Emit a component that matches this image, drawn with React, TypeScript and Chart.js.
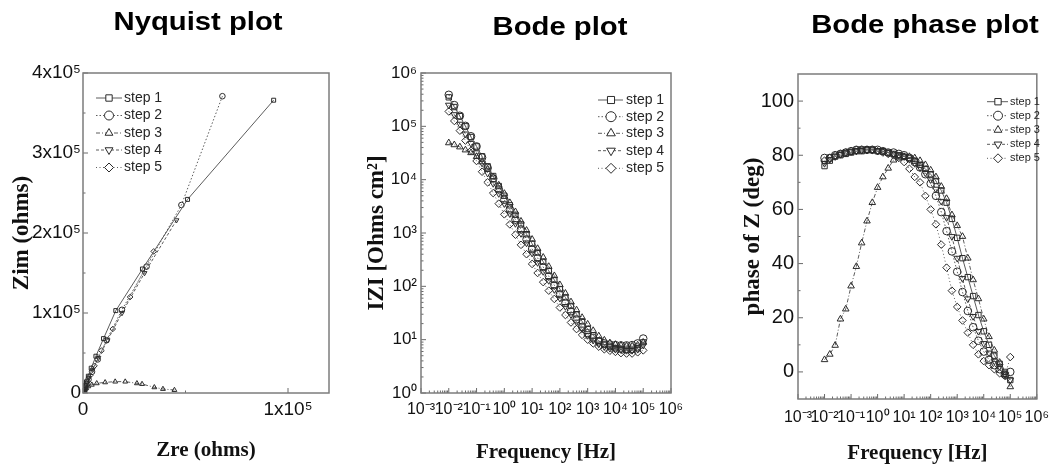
import React, { useEffect, useRef } from 'react';
import { Chart, registerables } from 'chart.js';

Chart.register(...registerables);

// ---------------- data ----------------
const seriesLabels = ['step 1', 'step 2', 'step 3', 'step 4', 'step 5'];

const frequencyHz = [
  0.01, 0.0158, 0.0251, 0.0398, 0.0631, 0.1, 0.158, 0.251, 0.398, 0.631,
  1, 1.58, 2.51, 3.98, 6.31, 10, 15.8, 25.1, 39.8, 63.1,
  100, 158, 251, 398, 631, 1000, 1580, 2510, 3980, 6310,
  10000, 15800, 25100, 39800, 63100, 100000,
];

const zModStep1 = [350000, 230000, 155000, 100000, 63000, 42000, 27500, 17800, 11700, 7600, 5000, 3300, 2200, 1450, 950, 630, 430, 290, 195, 132, 89, 62, 43, 30, 22, 15.8, 12, 9.5, 8.1, 7.4, 6.9, 6.6, 6.5, 6.5, 6.9, 8.9];
const zModStep2 = [390000, 250000, 158000, 102000, 65000, 42000, 26000, 16600, 10500, 6600, 4200, 2750, 1780, 1170, 760, 500, 340, 230, 155, 105, 71, 49, 34, 24, 17.4, 13.2, 10.7, 9.3, 8.5, 8.1, 7.9, 7.8, 7.8, 7.9, 8.5, 10.5];
const zModStep3 = [49000, 45000, 41000, 36000, 32000, 27000, 21500, 15800, 11200, 7900, 5500, 3700, 2500, 1660, 1120, 760, 510, 350, 235, 158, 107, 74, 51, 36, 26, 19.5, 14.8, 11.7, 9.8, 8.7, 8.1, 7.8, 7.6, 7.6, 7.9, 8.9];
const zModStep4 = [250000, 166000, 110000, 72000, 48000, 32000, 20500, 13200, 8500, 5500, 3550, 2300, 1510, 980, 650, 420, 280, 190, 129, 87, 60, 42, 29.5, 21.4, 15.8, 12, 9.8, 8.3, 7.4, 6.9, 6.6, 6.5, 6.3, 6.3, 6.6, 7.9];
const zModStep5 = [190000, 126000, 83000, 54000, 35000, 22400, 14100, 8900, 5600, 3550, 2240, 1450, 930, 600, 400, 263, 178, 120, 83, 58, 40, 29, 21, 15.8, 12.3, 10, 8.5, 7.4, 6.6, 6.2, 5.9, 5.6, 5.5, 5.5, 5.8, 6.3];

const phaseStep1 = [76, 78, 79.5, 80, 80.5, 81, 81.5, 81.5, 82, 82, 81.5, 81.5, 81, 80.5, 80, 79.5, 79, 78, 76.5, 75, 73, 70.5, 67, 62.5, 56.5, 49.5, 42, 35, 28, 21, 15, 10, 6, 3, 0, -3];
const phaseStep2 = [79, 79, 80, 80.5, 81, 81.5, 82, 82, 82, 82, 82, 81.5, 81, 81, 80.5, 80, 79, 77.5, 75.5, 73, 69.5, 65, 59, 52, 44.5, 37, 29.5, 22.5, 16.5, 11.5, 7.5, 4.5, 2.5, 1, -1, 0];
const phaseStep3 = [4.5, 6.5, 9.8, 19.5, 23.2, 31.7, 38.9, 47.6, 55.7, 62.5, 68.1, 72, 75.2, 78.2, 79, 79.5, 79.5, 79, 78, 76.5, 74.5, 72, 68.5, 64, 58, 54, 50, 42, 34, 27, 19.5, 13, 8, 3.5, -1, -5.5];
const phaseStep4 = [77, 78.5, 79.5, 80.5, 81, 81.5, 81.5, 82, 82, 82, 81.5, 81.5, 81, 80.5, 80, 79.5, 78.5, 77, 75.5, 73.5, 71, 67.5, 63, 57, 50, 42, 34.5, 27, 20.5, 15, 10.5, 7, 4, 2, -1, -3];
const phaseStep5 = [78, 79, 80, 80.5, 81, 81.5, 82, 82, 82, 82, 81.5, 81, 80.5, 80, 79, 77.5, 75, 72, 70, 65, 60, 54.5, 47, 38.5, 30, 24, 19, 14.5, 10, 6.5, 4, 2.5, 1, -0.5, -1.5, 5.5];

const nyqReStep1 = [93000, 51000, 29000, 16000, 10000, 6300, 4000, 2600, 1700, 1100, 700, 450, 300, 190, 120, 80];
const nyqImStep1 = [366000, 242000, 155000, 103000, 68000, 46000, 31000, 21000, 14000, 9500, 6300, 4200, 2800, 1900, 1200, 800];
const nyqReStep2 = [68000, 48000, 31000, 19000, 11500, 7200, 4400, 2700, 1700, 1050, 660, 420, 270, 180, 120, 80];
const nyqImStep2 = [371000, 235000, 158000, 104000, 66000, 42000, 26500, 17000, 10800, 6800, 4300, 2750, 1780, 1170, 760, 500];
const nyqReStep3 = [44600, 39000, 34800, 28800, 26300, 20600, 15700, 10800, 6700, 4300, 2600, 1600, 950, 560, 330, 200];
const nyqImStep3 = [3700, 5000, 7100, 11200, 12100, 14200, 14200, 13300, 12100, 10300, 8300, 5900, 4000, 2600, 1700, 1100];
const nyqReStep4 = [45600, 30000, 19000, 12000, 7500, 4700, 2900, 1800, 1150, 720, 460, 300, 190, 120, 80];
const nyqImStep4 = [216000, 150000, 100000, 66000, 44000, 29000, 19000, 12500, 8200, 5400, 3500, 2300, 1500, 980, 640];
const nyqReStep5 = [34500, 23000, 14500, 9000, 5600, 3500, 2200, 1400, 900, 580, 370, 240, 150, 100];
const nyqImStep5 = [177000, 120000, 80000, 53000, 34000, 22000, 14000, 8800, 5500, 3500, 2200, 1400, 900, 590];

const nyquistXTicks = [0, 100000];
const nyquistYTicks = [0, 100000, 200000, 300000, 400000];
const decadeTicks = [0.001, 0.01, 0.1, 1, 10, 100, 1000, 10000, 100000, 1000000];
const bodeYTicks = [1, 10, 100, 1000, 10000, 100000, 1000000];
const phaseYTicks = [0, 20, 40, 60, 80, 100];

// ---------------- styles ----------------
const SANS = "'Liberation Sans Narrow', 'Liberation Sans', Arial, sans-serif";
const SERIF = "'Liberation Serif', 'Times New Roman', serif";
const MARK = '#2b2b2b';
const LINE = '#5c5c5c';
const pointStyles = ['rect', 'circle', 'triangle', 'triangle', 'rectRot'];
const pointRotations = [0, 0, 0, 180, 0];
const lineDashes: number[][] = [[], [1.5, 2], [4, 2, 1, 2], [3, 2], [1, 2.5]];

const SUP: Record<string, string> = { '-': '⁻', '0': '⁰', '1': '¹', '2': '²', '3': '³', '4': '⁴', '5': '⁵', '6': '⁶', '7': '⁷', '8': '⁸', '9': '⁹' };
const sup = (s: string) => s.split('').map((c) => SUP[c] || c).join('');
const powLabel = (v: number) => '10' + sup(String(Math.round(Math.log10(v))));

function logMinors(lo: number, hi: number) {
  const out: number[] = [];
  for (let e = lo; e < hi; e++) for (let m = 2; m <= 9; m++) out.push(m * Math.pow(10, e));
  return out;
}

function drawMarker(ctx: CanvasRenderingContext2D, style: string, rotDeg: number, x: number, y: number, r: number) {
  ctx.beginPath();
  if (style === 'circle') {
    ctx.arc(x, y, r, 0, Math.PI * 2);
  } else if (style === 'rect') {
    const s = r * Math.SQRT1_2;
    ctx.rect(x - s, y - s, 2 * s, 2 * s);
  } else if (style === 'rectRot') {
    ctx.moveTo(x, y - r);
    ctx.lineTo(x + r, y);
    ctx.lineTo(x, y + r);
    ctx.lineTo(x - r, y);
    ctx.closePath();
  } else {
    let a = (rotDeg * Math.PI) / 180;
    ctx.moveTo(x + Math.sin(a) * r, y - Math.cos(a) * r);
    a += (2 * Math.PI) / 3;
    ctx.lineTo(x + Math.sin(a) * r, y - Math.cos(a) * r);
    a += (2 * Math.PI) / 3;
    ctx.lineTo(x + Math.sin(a) * r, y - Math.cos(a) * r);
    ctx.closePath();
  }
  ctx.fill();
  ctx.stroke();
}

const framePlugin = {
  id: 'frame',
  afterDatasetsDraw(chart: any, _args: any, opts: any) {
    const { ctx, chartArea: a, scales } = chart;
    const xs = scales.x;
    const ys = scales.y;
    ctx.save();
    ctx.strokeStyle = '#6a6a6a';
    ctx.lineWidth = 1;
    const seg = (x1: number, y1: number, x2: number, y2: number) => {
      ctx.beginPath();
      ctx.moveTo(x1, y1);
      ctx.lineTo(x2, y2);
      ctx.stroke();
    };
    xs.ticks.forEach((t: any) => {
      const p = xs.getPixelForValue(t.value);
      seg(p, a.bottom, p, a.bottom - 5);
    });
    (opts.xMinor || []).forEach((v: number) => {
      if (v <= xs.min || v >= xs.max) return;
      const p = xs.getPixelForValue(v);
      seg(p, a.bottom, p, a.bottom - 2.5);
    });
    ys.ticks.forEach((t: any) => {
      const p = ys.getPixelForValue(t.value);
      seg(a.left, p, a.left + 5, p);
    });
    (opts.yMinor || []).forEach((v: number) => {
      if (v <= ys.min || v >= ys.max) return;
      const p = ys.getPixelForValue(v);
      seg(a.left, p, a.left + 2.5, p);
    });
    ctx.strokeStyle = '#7c7c7c';
    ctx.lineWidth = 1.5;
    ctx.strokeRect(a.left, a.top, a.right - a.left, a.bottom - a.top);
    ctx.restore();
  },
};

const legendPlugin = {
  id: 'stepLegend',
  afterDraw(chart: any, _args: any, o: any) {
    if (!o || !o.ys) return;
    const ctx: CanvasRenderingContext2D = chart.ctx;
    chart.data.datasets.forEach((ds: any, i: number) => {
      const y = o.ys[i];
      ctx.save();
      ctx.strokeStyle = LINE;
      ctx.lineWidth = 1;
      ctx.setLineDash(ds.borderDash || []);
      ctx.beginPath();
      ctx.moveTo(o.x0, y);
      ctx.lineTo(o.x1, y);
      ctx.stroke();
      ctx.setLineDash([]);
      ctx.fillStyle = '#ffffff';
      ctx.strokeStyle = MARK;
      drawMarker(ctx, ds.pointStyle, ds.pointRotation || 0, o.mx, y, o.r);
      ctx.fillStyle = '#262626';
      ctx.font = o.font;
      ctx.textBaseline = 'middle';
      ctx.textAlign = 'left';
      ctx.fillText(ds.label, o.tx, y);
      ctx.restore();
    });
  },
};

function makeDatasets(xArr: number[][], yArr: number[][], r: number) {
  return seriesLabels.map((label, i) => ({
    label,
    data: xArr[i].map((x, j) => ({ x, y: yArr[i][j] })),
    borderColor: LINE,
    borderWidth: 1,
    borderDash: lineDashes[i],
    pointStyle: pointStyles[i],
    pointRotation: pointRotations[i],
    pointRadius: r,
    pointBorderColor: MARK,
    pointBackgroundColor: 'rgba(255,255,255,0)',
    pointBorderWidth: 1,
    fill: false,
    tension: 0,
  }));
}

const noGrid = { display: false, drawTicks: false };
const noBorder = { display: false };

function buildNyquist(): any {
  return {
    type: 'line',
    data: {
      datasets: makeDatasets(
        [nyqReStep1, nyqReStep2, nyqReStep3, nyqReStep4, nyqReStep5],
        [nyqImStep1, nyqImStep2, nyqImStep3, nyqImStep4, nyqImStep5],
        2.8,
      ),
    },
    options: {
      responsive: false,
      animation: false,
      layout: { padding: { left: 0, top: 73, right: 11, bottom: 0 } },
      plugins: {
        legend: { display: false },
        tooltip: { enabled: false },
        frame: { xMinor: [50000], yMinor: [50000, 150000, 250000, 350000] },
        stepLegend: { ys: [98, 115.5, 133, 150, 167.5], x0: 96, x1: 122, mx: 109, tx: 124, r: 4.5, font: `14px ${SANS}` },
      },
      scales: {
        x: {
          type: 'linear',
          min: 0,
          max: 120000,
          afterBuildTicks: (s: any) => { s.ticks = nyquistXTicks.map((value) => ({ value })); },
          afterFit: (s: any) => { s.height = 75; },
          ticks: { callback: (v: number) => (v === 0 ? '0' : `${v / 100000}x10${sup('5')}`), font: { family: SANS, size: 19 }, color: '#111', padding: 5, maxRotation: 0, autoSkip: false },
          grid: noGrid,
          border: noBorder,
          title: { display: true, text: 'Zre (ohms)', color: '#111', font: { family: SERIF, weight: 'bold', size: 21 }, padding: { top: 0, bottom: 5 } },
        },
        y: {
          type: 'linear',
          min: 0,
          max: 400000,
          afterBuildTicks: (s: any) => { s.ticks = nyquistYTicks.map((value) => ({ value })); },
          afterFit: (s: any) => { s.width = 83; },
          ticks: { callback: (v: number) => (v === 0 ? '0' : `${v / 100000}x10${sup('5')}`), font: { family: SANS, size: 19 }, color: '#111', padding: 2, autoSkip: false },
          grid: noGrid,
          border: noBorder,
          title: { display: true, text: 'Zim (ohms)', color: '#111', font: { family: SERIF, weight: 'bold', size: 23 }, padding: { top: 8, bottom: 0 } },
        },
      },
    },
    plugins: [framePlugin, legendPlugin],
  };
}

function buildBode(): any {
  const fx = [frequencyHz, frequencyHz, frequencyHz, frequencyHz, frequencyHz];
  return {
    type: 'line',
    data: { datasets: makeDatasets(fx, [zModStep1, zModStep2, zModStep3, zModStep4, zModStep5], 3.8) },
    options: {
      responsive: false,
      animation: false,
      layout: { padding: { left: 0, top: 73, right: 29, bottom: 0 } },
      plugins: {
        legend: { display: false },
        tooltip: { enabled: false },
        frame: { xMinor: logMinors(-3, 6), yMinor: logMinors(0, 6) },
        stepLegend: { ys: [100, 116.7, 133.3, 150.7, 168.3], x0: 258, x1: 283, mx: 271, tx: 286, r: 5, font: `14px ${SANS}` },
      },
      scales: {
        x: {
          type: 'logarithmic',
          min: 0.001,
          max: 1000000,
          afterBuildTicks: (s: any) => { s.ticks = decadeTicks.map((value) => ({ value })); },
          afterFit: (s: any) => { s.height = 75; },
          ticks: { callback: (v: number) => powLabel(v), font: { family: SANS, size: 16 }, color: '#111', padding: 7, maxRotation: 0, autoSkip: false },
          grid: noGrid,
          border: noBorder,
          title: { display: true, text: 'Frequency [Hz]', color: '#111', font: { family: SERIF, weight: 'bold', size: 21 }, padding: { top: 0, bottom: 3 } },
        },
        y: {
          type: 'logarithmic',
          min: 1,
          max: 1000000,
          afterBuildTicks: (s: any) => { s.ticks = bodeYTicks.map((value) => ({ value })); },
          afterFit: (s: any) => { s.width = 81; },
          ticks: { callback: (v: number) => powLabel(v), font: { family: SANS, size: 17 }, color: '#111', padding: 4, autoSkip: false },
          grid: noGrid,
          border: noBorder,
          title: { display: true, text: 'IZI [Ohms cm²]', color: '#111', font: { family: SERIF, weight: 'bold', size: 23 }, padding: { top: 23, bottom: 0 } },
        },
      },
    },
    plugins: [framePlugin, legendPlugin],
  };
}

function buildPhase(): any {
  const fx = [frequencyHz, frequencyHz, frequencyHz, frequencyHz, frequencyHz];
  return {
    type: 'line',
    data: { datasets: makeDatasets(fx, [phaseStep1, phaseStep2, phaseStep3, phaseStep4, phaseStep5], 3.8) },
    options: {
      responsive: false,
      animation: false,
      layout: { padding: { left: 0, top: 74, right: 14, bottom: 0 } },
      plugins: {
        legend: { display: false },
        tooltip: { enabled: false },
        frame: { xMinor: logMinors(-3, 6), yMinor: [-10, 10, 30, 50, 70, 90] },
        stepLegend: { ys: [101.7, 115.7, 130, 144.3, 158.3], x0: 287, x1: 308, mx: 298, tx: 310, r: 4.5, font: `11px ${SANS}` },
      },
      scales: {
        x: {
          type: 'logarithmic',
          min: 0.001,
          max: 1000000,
          afterBuildTicks: (s: any) => { s.ticks = decadeTicks.map((value) => ({ value })); },
          afterFit: (s: any) => { s.height = 69; },
          ticks: { callback: (v: number) => powLabel(v), font: { family: SANS, size: 16 }, color: '#111', padding: 9, maxRotation: 0, autoSkip: false },
          grid: noGrid,
          border: noBorder,
          title: { display: true, text: 'Frequency [Hz]', color: '#111', font: { family: SERIF, weight: 'bold', size: 21 }, padding: { top: 0, bottom: 2 } },
        },
        y: {
          type: 'linear',
          min: -10,
          max: 110,
          afterBuildTicks: (s: any) => { s.ticks = phaseYTicks.map((value) => ({ value })); },
          afterFit: (s: any) => { s.width = 98; },
          ticks: { callback: (v: number) => String(v), font: { family: SANS, size: 20 }, color: '#111', padding: 4, autoSkip: false },
          grid: noGrid,
          border: noBorder,
          title: { display: true, text: 'phase of Z (deg)', color: '#111', font: { family: SERIF, weight: 'bold', size: 23 }, padding: { top: 39, bottom: 0 } },
        },
      },
    },
    plugins: [framePlugin, legendPlugin],
  };
}

function ChartCanvas({ left, width, build }: { left: number; width: number; build: () => any }) {
  const ref = useRef<HTMLCanvasElement>(null);
  useEffect(() => {
    if (!ref.current) return;
    const chart = new Chart(ref.current, build());
    return () => chart.destroy();
  }, [build]);
  return (
    <canvas
      ref={ref}
      width={width}
      height={468}
      style={{ position: 'absolute', left, top: 0, width, height: 468, display: 'block' }}
    />
  );
}

function PanelTitle({ text, cx, top }: { text: string; cx: number; top: number }) {
  return (
    <div
      style={{
        position: 'absolute',
        left: cx - 200,
        top,
        width: 400,
        textAlign: 'center',
        fontFamily: "'Liberation Sans', Arial, sans-serif",
        fontWeight: 'bold',
        fontSize: 25,
        lineHeight: '25px',
        color: '#000',
        whiteSpace: 'nowrap',
        transform: 'scaleX(1.17)',
        transformOrigin: 'center',
      }}
    >
      {text}
    </div>
  );
}

export default function App() {
  return (
    <div style={{ position: 'absolute', left: 0, top: 0, width: 1058, height: 468, background: '#fff', overflow: 'hidden' }}>
      <ChartCanvas left={0} width={340} build={buildNyquist} />
      <ChartCanvas left={340} width={360} build={buildBode} />
      <ChartCanvas left={700} width={358} build={buildPhase} />
      <PanelTitle text="Nyquist plot" cx={198} top={9} />
      <PanelTitle text="Bode plot" cx={560} top={14} />
      <PanelTitle text="Bode phase plot" cx={925} top={12} />
    </div>
  );
}
